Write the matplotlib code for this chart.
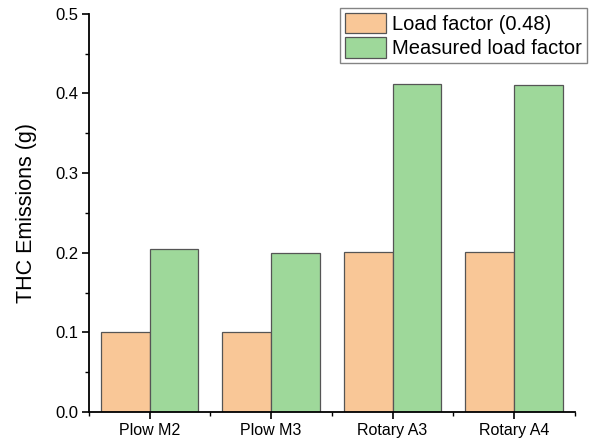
import matplotlib
matplotlib.use("Agg")
import matplotlib.pyplot as plt
import numpy as np
from matplotlib.ticker import MultipleLocator, FixedLocator

plt.rcParams['font.family'] = ['Liberation Sans', 'DejaVu Sans']

categories = ["Plow M2", "Plow M3", "Rotary A3", "Rotary A4"]
load_factor_048 = [0.100, 0.100, 0.201, 0.201]
measured_load_factor = [0.205, 0.200, 0.412, 0.410]

fig = plt.figure(figsize=(5.92, 4.45), dpi=100)
ax = fig.add_axes([0.150, 0.074, 0.821, 0.895])

x = np.arange(len(categories))
w = 0.4
ax.bar(x - w / 2, load_factor_048, width=w, color="#F9C797", edgecolor="#555555",
       linewidth=0.9, label="Load factor (0.48)", zorder=2)
ax.bar(x + w / 2, measured_load_factor, width=w, color="#9ED89A", edgecolor="#555555",
       linewidth=0.9, label="Measured load factor", zorder=2)

ax.set_xlim(-0.5, len(categories) - 0.5)
ax.set_ylim(0, 0.5)
ax.set_xticks(x)
ax.set_xticklabels(categories)
ax.xaxis.set_minor_locator(FixedLocator(np.arange(-0.5, len(categories), 1.0)))
ax.yaxis.set_major_locator(MultipleLocator(0.1))
ax.yaxis.set_minor_locator(MultipleLocator(0.05))
ax.tick_params(axis='both', which='major', direction='out', length=5, width=1.2,
               labelsize=12, colors='black', pad=2.5)
ax.tick_params(axis='both', which='minor', direction='out', length=3, width=1.0)
ax.tick_params(axis='x', labelsize=11.5, pad=3)

for s in ['top', 'right']:
    ax.spines[s].set_visible(False)
for s in ['left', 'bottom']:
    ax.spines[s].set_linewidth(1.3)

ax.set_ylabel("THC Emissions (g)", fontsize=15.5, labelpad=13)

leg = ax.legend(loc='upper right', bbox_to_anchor=(1.0247, 1.015), fontsize=14.5,
                frameon=True, fancybox=False, edgecolor="#666666",
                handlelength=2.05, handleheight=1.2, labelspacing=0.15,
                handletextpad=0.3, borderpad=0.25, borderaxespad=0.0)
leg.get_frame().set_linewidth(1.0)

fig.savefig("out.png", dpi=100)
